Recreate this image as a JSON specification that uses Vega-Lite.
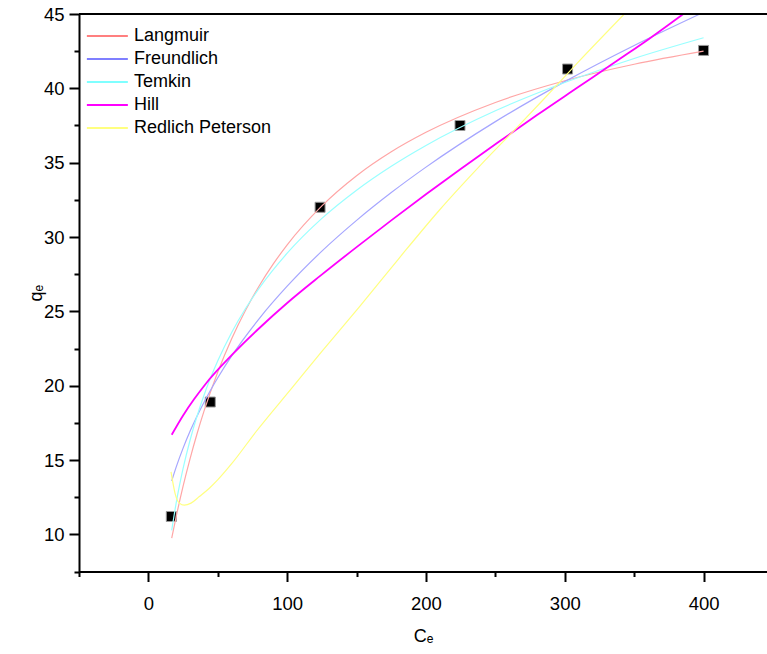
{
  "$schema": "https://vega.github.io/schema/vega-lite/v6.json",
  "width": 688,
  "height": 557.5,
  "autosize": "none",
  "padding": {"left": 79, "top": 14, "right": 0, "bottom": 82.5},
  "config": {
    "view": {"stroke": null},
    "font": "Liberation Sans",
    "axis": {
      "domainColor": "black",
      "domainWidth": 2,
      "tickColor": "black",
      "tickWidth": 2,
      "labelColor": "black",
      "labelFont": "Liberation Sans",
      "labelFontSize": 18.5,
      "titleFont": "Liberation Sans",
      "titleFontSize": 18,
      "titleFontWeight": "normal",
      "titleColor": "black",
      "grid": false
    }
  },
  "resolve": {"axis": {"y": "independent"}},
  "datasets": {
    "pts": [
      {"C": 16.5, "q": 11.2},
      {"C": 44.6, "q": 18.9},
      {"C": 123.7, "q": 32.0},
      {"C": 224.5, "q": 37.5},
      {"C": 302, "q": 41.3},
      {"C": 400, "q": 42.55}
    ],
    "curves": [
      {"model": "Langmuir", "C": 16.8, "q": 9.74},
      {"model": "Langmuir", "C": 20, "q": 11.18},
      {"model": "Langmuir", "C": 25, "q": 13.24},
      {"model": "Langmuir", "C": 30, "q": 15.08},
      {"model": "Langmuir", "C": 35, "q": 16.75},
      {"model": "Langmuir", "C": 40, "q": 18.27},
      {"model": "Langmuir", "C": 50, "q": 20.92},
      {"model": "Langmuir", "C": 60, "q": 23.16},
      {"model": "Langmuir", "C": 70, "q": 25.07},
      {"model": "Langmuir", "C": 80, "q": 26.74},
      {"model": "Langmuir", "C": 90, "q": 28.19},
      {"model": "Langmuir", "C": 100, "q": 29.47},
      {"model": "Langmuir", "C": 125, "q": 32.09},
      {"model": "Langmuir", "C": 150, "q": 34.12},
      {"model": "Langmuir", "C": 175, "q": 35.73},
      {"model": "Langmuir", "C": 200, "q": 37.04},
      {"model": "Langmuir", "C": 250, "q": 39.05},
      {"model": "Langmuir", "C": 300, "q": 40.51},
      {"model": "Langmuir", "C": 350, "q": 41.62},
      {"model": "Langmuir", "C": 400, "q": 42.5},
      {"model": "Freundlich", "C": 16.8, "q": 13.59},
      {"model": "Freundlich", "C": 20, "q": 14.52},
      {"model": "Freundlich", "C": 25, "q": 15.8},
      {"model": "Freundlich", "C": 30, "q": 16.93},
      {"model": "Freundlich", "C": 40, "q": 18.87},
      {"model": "Freundlich", "C": 50, "q": 20.53},
      {"model": "Freundlich", "C": 60, "q": 22.0},
      {"model": "Freundlich", "C": 80, "q": 24.53},
      {"model": "Freundlich", "C": 100, "q": 26.69},
      {"model": "Freundlich", "C": 125, "q": 29.05},
      {"model": "Freundlich", "C": 150, "q": 31.12},
      {"model": "Freundlich", "C": 175, "q": 32.99},
      {"model": "Freundlich", "C": 200, "q": 34.7},
      {"model": "Freundlich", "C": 250, "q": 37.76},
      {"model": "Freundlich", "C": 300, "q": 40.45},
      {"model": "Freundlich", "C": 350, "q": 42.88},
      {"model": "Freundlich", "C": 397, "q": 44.98},
      {"model": "Temkin", "C": 16.8, "q": 10.27},
      {"model": "Temkin", "C": 20, "q": 12.1},
      {"model": "Temkin", "C": 25, "q": 14.43},
      {"model": "Temkin", "C": 30, "q": 16.33},
      {"model": "Temkin", "C": 35, "q": 17.94},
      {"model": "Temkin", "C": 40, "q": 19.34},
      {"model": "Temkin", "C": 50, "q": 21.67},
      {"model": "Temkin", "C": 60, "q": 23.58},
      {"model": "Temkin", "C": 70, "q": 25.19},
      {"model": "Temkin", "C": 80, "q": 26.58},
      {"model": "Temkin", "C": 100, "q": 28.91},
      {"model": "Temkin", "C": 125, "q": 31.25},
      {"model": "Temkin", "C": 150, "q": 33.15},
      {"model": "Temkin", "C": 175, "q": 34.76},
      {"model": "Temkin", "C": 200, "q": 36.16},
      {"model": "Temkin", "C": 250, "q": 38.49},
      {"model": "Temkin", "C": 300, "q": 40.39},
      {"model": "Temkin", "C": 350, "q": 42.01},
      {"model": "Temkin", "C": 400, "q": 43.4},
      {"model": "Hill", "C": 16.8, "q": 16.7},
      {"model": "Hill", "C": 25, "q": 18.0},
      {"model": "Hill", "C": 33, "q": 19.1},
      {"model": "Hill", "C": 41.5, "q": 20.15},
      {"model": "Hill", "C": 60, "q": 22.05},
      {"model": "Hill", "C": 80, "q": 23.88},
      {"model": "Hill", "C": 100, "q": 25.56},
      {"model": "Hill", "C": 124, "q": 27.4},
      {"model": "Hill", "C": 150, "q": 29.32},
      {"model": "Hill", "C": 175, "q": 31.12},
      {"model": "Hill", "C": 200, "q": 32.87},
      {"model": "Hill", "C": 225, "q": 34.57},
      {"model": "Hill", "C": 252.5, "q": 36.4},
      {"model": "Hill", "C": 280, "q": 38.2},
      {"model": "Hill", "C": 310, "q": 40.1},
      {"model": "Hill", "C": 340, "q": 42.0},
      {"model": "Hill", "C": 360.9, "q": 43.34},
      {"model": "Hill", "C": 385.4, "q": 45.0},
      {"model": "Redlich Peterson", "C": 16.3, "q": 14.2},
      {"model": "Redlich Peterson", "C": 17.5, "q": 13.55},
      {"model": "Redlich Peterson", "C": 19.5, "q": 12.65},
      {"model": "Redlich Peterson", "C": 22.3, "q": 12.1},
      {"model": "Redlich Peterson", "C": 25.9, "q": 11.96},
      {"model": "Redlich Peterson", "C": 30.7, "q": 12.1},
      {"model": "Redlich Peterson", "C": 36.7, "q": 12.54},
      {"model": "Redlich Peterson", "C": 43.9, "q": 13.1},
      {"model": "Redlich Peterson", "C": 49.9, "q": 13.66},
      {"model": "Redlich Peterson", "C": 60, "q": 14.75},
      {"model": "Redlich Peterson", "C": 77.5, "q": 16.9},
      {"model": "Redlich Peterson", "C": 103.9, "q": 19.9},
      {"model": "Redlich Peterson", "C": 125, "q": 22.3},
      {"model": "Redlich Peterson", "C": 152, "q": 25.3},
      {"model": "Redlich Peterson", "C": 180, "q": 28.5},
      {"model": "Redlich Peterson", "C": 209.6, "q": 31.8},
      {"model": "Redlich Peterson", "C": 240, "q": 34.9},
      {"model": "Redlich Peterson", "C": 267.3, "q": 37.54},
      {"model": "Redlich Peterson", "C": 284.1, "q": 39.2},
      {"model": "Redlich Peterson", "C": 310, "q": 41.8},
      {"model": "Redlich Peterson", "C": 342.9, "q": 45.0}
    ]
  },
  "layer": [
    {
      "data": {"name": "pts"},
      "mark": {"type": "point", "shape": "square", "filled": true, "size": 100, "fill": "black", "stroke": "#999999", "strokeWidth": 1, "opacity": 1},
      "encoding": {
        "x": {
          "field": "C", "type": "quantitative",
          "scale": {"domain": [-50, 445.7], "nice": false, "zero": false},
          "axis": {
            "title": "Cₑ",
            "values": [-50, 0, 50, 100, 150, 200, 250, 300, 350, 400],
            "labelExpr": "datum.value % 100 === 0 ? datum.label : ''",
            "tickSize": {"condition": {"test": "datum.value % 100 === 0", "value": 10}, "value": 5},
            "labelPadding": 13,
            "titlePadding": 14,
            "labelFlush": false,
            "labelOverlap": false
          }
        },
        "y": {
          "field": "q", "type": "quantitative",
          "scale": {"domain": [7.5, 45], "nice": false, "zero": false},
          "axis": {
            "orient": "left",
            "title": "qₑ",
            "values": [10, 15, 20, 25, 30, 35, 40, 45],
            "tickSize": 10,
            "labelPadding": 5,
            "titlePadding": -2,
            "labelFlush": false,
            "labelOverlap": false
          }
        }
      }
    },
    {
      "data": {"name": "curves"},
      "mark": {"type": "line", "clip": true, "strokeWidth": 0.01, "interpolate": "monotone"},
      "encoding": {
        "x": {"field": "C", "type": "quantitative"},
        "y": {"field": "q", "type": "quantitative", "axis": null},
        "color": {
          "field": "model", "type": "nominal",
          "scale": {"domain": ["Langmuir", "Freundlich", "Temkin", "Hill", "Redlich Peterson"], "range": ["#FF0000", "#0000FF", "#00FFFF", "#FF00FF", "#FFFF00"]},
          "legend": {
            "orient": "none", "legendX": 4, "legendY": 13, "title": null,
            "symbolType": "M-1,0H7", "symbolSize": 105, "symbolStrokeWidth": 2,
            "symbolOpacity": 1,
            "labelFont": "Liberation Sans", "labelFontSize": 18, "labelColor": "black",
            "labelOffset": 33, "rowPadding": 5,
            "encode": {"symbols": {"update": {"opacity": {"value": 1}, "strokeOpacity": {"value": 1}, "strokeWidth": {"value": 2}, "fill": {"value": "transparent"}}}}
          }
        }
      }
    },
    {
      "data": {"name": "curves"},
      "mark": {"type": "line", "clip": true, "interpolate": "monotone"},
      "encoding": {
        "x": {"field": "C", "type": "quantitative"},
        "y": {"field": "q", "type": "quantitative", "axis": null},
        "stroke": {
          "field": "model", "type": "nominal",
          "scale": {"domain": ["Langmuir", "Freundlich", "Temkin", "Hill", "Redlich Peterson"], "range": ["#FFA6A6", "#A6A6FF", "#99FFFF", "#FF00FF", "#FFFF80"]},
          "legend": null
        },
        "strokeWidth": {
          "field": "model", "type": "nominal",
          "scale": {"type": "ordinal", "domain": ["Langmuir", "Freundlich", "Temkin", "Hill", "Redlich Peterson"], "range": [1.2, 1.2, 1.2, 1.8, 1.2]},
          "legend": null
        }
      }
    },
    {
      "data": {"values": [{}]},
      "mark": {"type": "rule", "color": "black", "strokeWidth": 2},
      "encoding": {
        "y": {
          "datum": 45,
          "axis": {
            "orient": "left",
            "values": [7.5, 12.5, 17.5, 22.5, 27.5, 32.5, 37.5, 42.5],
            "tickSize": 5,
            "labels": false,
            "title": null,
            "domain": false
          }
        }
      }
    }
  ]
}
